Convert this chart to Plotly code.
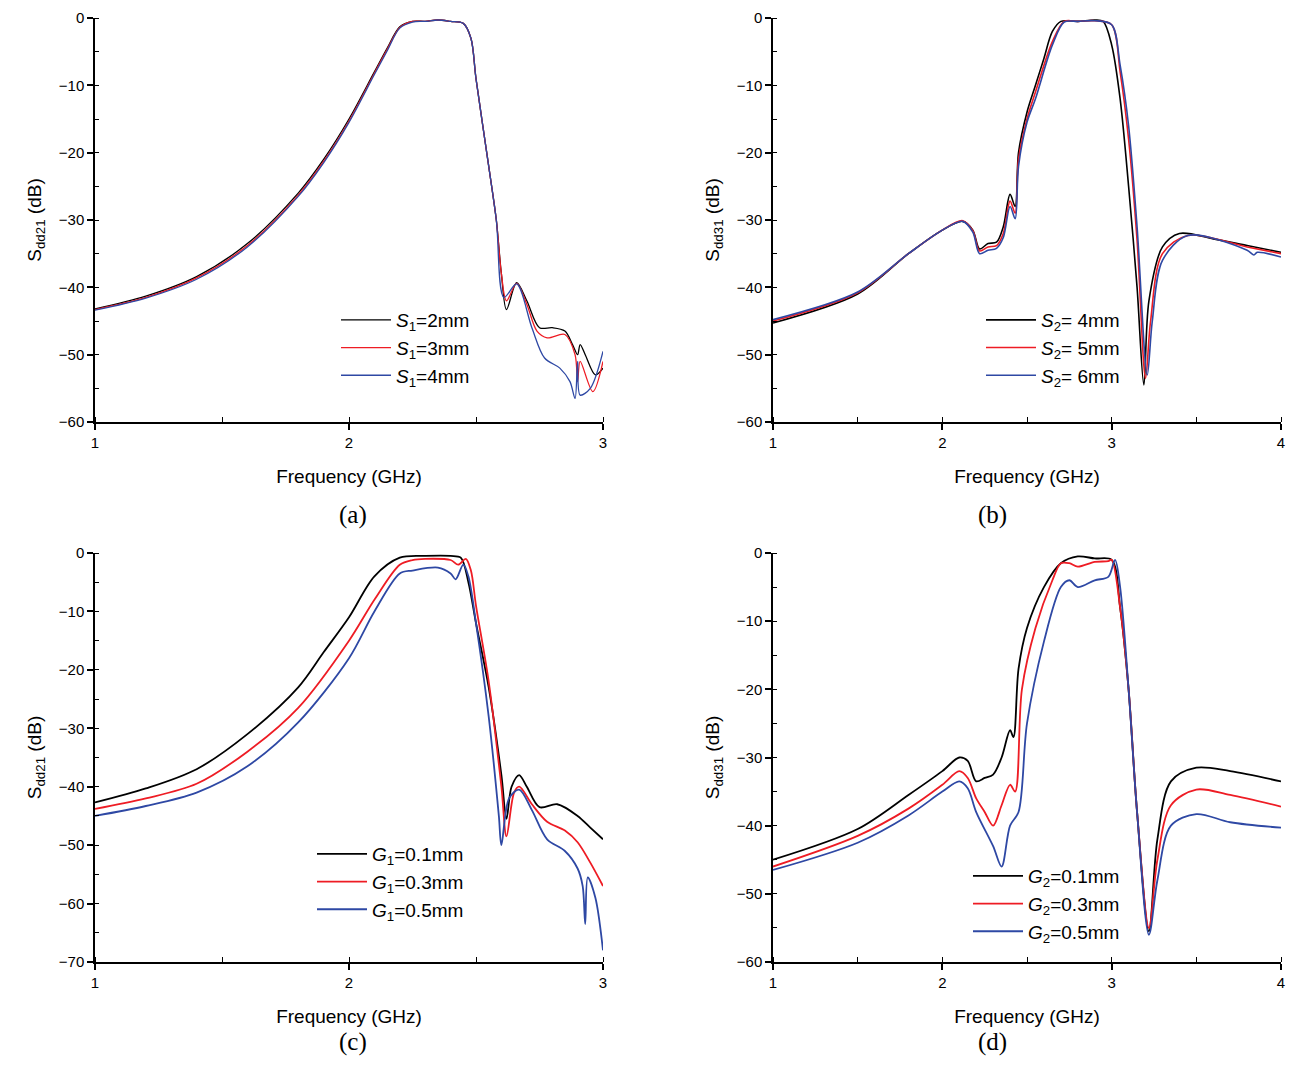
import plotly.graph_objects as go

# ---- panel (a): Sdd21 vs S1
xa_k = [1.0, 1.2, 1.4, 1.6, 1.8, 1.9, 2.0, 2.1, 2.15, 2.2, 2.25, 2.3, 2.35, 2.4, 2.45, 2.48, 2.5, 2.55, 2.58, 2.6, 2.62, 2.66, 2.7, 2.75, 2.8, 2.85, 2.88, 2.9, 2.91, 2.93, 2.97, 3.0]
ya_k = [-43.2, -41.3, -38.4, -33.5, -26, -21, -15, -8, -4.5, -1.3, -0.5, -0.5, -0.3, -0.5, -0.8, -3, -9, -22, -30, -38, -43.3, -39.3, -42, -46, -46, -46.5, -48.5, -50, -48.5, -50, -53, -52]
xa_r = [1.0, 1.2, 1.4, 1.6, 1.8, 1.9, 2.0, 2.1, 2.15, 2.2, 2.25, 2.3, 2.35, 2.4, 2.45, 2.48, 2.5, 2.55, 2.58, 2.6, 2.62, 2.66, 2.7, 2.74, 2.78, 2.85, 2.89, 2.9, 2.91, 2.96, 3.0]
ya_r = [-43.3, -41.5, -38.6, -33.8, -26.3, -21.3, -15.3, -8.2, -4.7, -1.4, -0.5, -0.5, -0.3, -0.5, -0.8, -3, -9, -22, -30, -38, -42, -39.4, -42.5, -46.5, -47.5, -47, -50, -54, -51, -55.5, -51]
xa_b = [1.0, 1.2, 1.4, 1.6, 1.8, 1.9, 2.0, 2.1, 2.15, 2.2, 2.25, 2.3, 2.35, 2.4, 2.45, 2.48, 2.5, 2.55, 2.58, 2.61, 2.66, 2.72, 2.77, 2.83, 2.87, 2.89, 2.9, 2.91, 2.95, 3.0]
ya_b = [-43.4, -41.6, -38.8, -34, -26.5, -21.5, -15.5, -8.4, -4.9, -1.5, -0.6, -0.5, -0.3, -0.5, -0.8, -3, -9, -22, -30, -41.5, -39.5, -46, -50.5, -52, -54, -56.5, -51, -56, -55, -49.5]

# ---- panel (b): Sdd31 vs S2
xb_k = [1.0, 1.5, 1.8, 2.0, 2.12, 2.18, 2.22, 2.27, 2.32, 2.36, 2.4, 2.43, 2.45, 2.5, 2.55, 2.6, 2.65, 2.7, 2.8, 2.9, 2.95, 3.0, 3.05, 3.1, 3.15, 3.19, 3.22, 3.3, 3.4, 3.6, 3.8, 4.0]
yb_k = [-45.3, -41, -35, -31.5, -30.2, -31.5, -34.3, -33.5, -33.3, -31, -26.2, -28, -20, -14, -10, -6, -2, -0.5, -0.5, -0.3, -0.5, -4, -12, -25, -40, -54.5, -42, -34, -32, -32.8, -33.8, -34.8]
xb_r = [1.0, 1.5, 1.8, 2.0, 2.12, 2.18, 2.22, 2.27, 2.32, 2.36, 2.4, 2.43, 2.45, 2.5, 2.55, 2.65, 2.72, 2.8, 2.9, 3.0, 3.05, 3.1, 3.15, 3.2, 3.23, 3.3, 3.45, 3.8, 4.0]
yb_r = [-45, -40.8, -35, -31.5, -30.1, -31.6, -34.6, -34, -33.8, -32, -27.2, -29, -21, -15, -11, -3.5, -0.5, -0.5, -0.4, -1, -8, -18, -33, -53.5, -45, -35, -32.3, -34, -35]
xb_b = [1.0, 1.5, 1.8, 2.0, 2.12, 2.18, 2.22, 2.27, 2.32, 2.36, 2.4, 2.43, 2.45, 2.5, 2.55, 2.65, 2.72, 2.8, 2.9, 3.0, 3.05, 3.1, 3.15, 3.21, 3.24, 3.3, 3.45, 3.8, 3.84, 3.86, 4.0]
yb_b = [-44.8, -40.7, -35, -31.5, -30.2, -31.8, -35, -34.5, -34.2, -32.6, -28, -29.8, -22, -15.5, -12, -4, -0.6, -0.5, -0.4, -1, -7, -16, -31, -53, -45, -36, -32.3, -34.5, -35.2, -34.8, -35.5]

# ---- panel (c): Sdd21 vs G1
xc_k = [1.0, 1.2, 1.4, 1.6, 1.8, 1.9, 2.0, 2.1, 2.2, 2.3, 2.4, 2.44, 2.47, 2.5, 2.55, 2.6, 2.62, 2.64, 2.67, 2.7, 2.75, 2.82, 2.9, 2.95, 3.0]
yc_k = [-42.7, -40.3, -37, -31, -23, -17, -11, -4, -0.8, -0.5, -0.5, -0.8, -5, -12, -23, -38, -45.5, -40, -38, -40, -43.5, -43, -45, -47, -49]
xc_r = [1.0, 1.2, 1.4, 1.6, 1.8, 2.0, 2.1, 2.2, 2.25, 2.3, 2.4, 2.43, 2.46, 2.48, 2.5, 2.55, 2.6, 2.62, 2.65, 2.67, 2.72, 2.78, 2.85, 2.9, 2.95, 3.0]
yc_r = [-43.8, -42, -39.5, -34, -26.5, -15, -8, -2, -1.2, -1, -1.2, -2, -1, -3, -9, -22, -40, -48.5, -41, -40, -43, -46, -47.5, -49.5, -53, -57]
xc_b = [1.0, 1.2, 1.4, 1.6, 1.8, 2.0, 2.1, 2.2, 2.25, 2.35, 2.4, 2.42, 2.45, 2.47, 2.5, 2.55, 2.59, 2.6, 2.63, 2.67, 2.72, 2.78, 2.85, 2.9, 2.92, 2.93, 2.94, 2.97, 3.0]
yc_b = [-45, -43.3, -41, -36.5, -29, -18, -10, -3.5, -3, -2.5, -3.5, -4.5, -2, -4, -12, -28, -45, -50, -42, -40.5, -44, -49, -51, -54, -57, -63.5, -55.5, -59, -68]

# ---- panel (d): Sdd31 vs G2
xd_k = [1.0, 1.5, 1.8, 2.0, 2.1, 2.15, 2.2, 2.25, 2.3, 2.35, 2.4, 2.42, 2.45, 2.5, 2.6, 2.7, 2.8, 2.9, 3.0, 3.05, 3.1, 3.15, 3.22, 3.27, 3.35, 3.5, 3.7, 4.0]
yd_k = [-45, -40.5, -35.5, -32, -30, -30.5, -33.5, -33, -32.5, -30, -26, -27, -17, -11, -5, -1.5, -0.5, -0.8, -1, -8, -20, -38, -55.5, -42, -33.5, -31.5, -32, -33.5]
xd_r = [1.0, 1.5, 1.8, 2.0, 2.1, 2.15, 2.2, 2.25, 2.3, 2.35, 2.4, 2.43, 2.47, 2.55, 2.65, 2.7, 2.75, 2.8, 2.9, 2.98, 3.0, 3.05, 3.1, 3.15, 3.22, 3.27, 3.35, 3.5, 3.7, 4.0]
yd_r = [-46, -41.5, -37.5, -34, -32, -33, -36, -38, -40, -37, -34, -35, -20, -11, -4, -1.5, -1.5, -2, -1.3, -1.2, -1, -8, -20, -38, -55, -45, -37, -34.7, -35.5, -37.2]
xd_b = [1.0, 1.5, 1.8, 2.0, 2.1, 2.15, 2.2, 2.3, 2.35, 2.4, 2.45, 2.5, 2.6, 2.7, 2.75, 2.8, 2.9, 2.98, 3.02, 3.05, 3.1, 3.15, 3.22, 3.27, 3.35, 3.5, 3.7, 4.0]
yd_b = [-46.5, -42.5, -38.5, -35, -33.5, -34.5, -38, -43, -46, -40, -38, -25, -13, -5, -4, -5, -4, -3.5, -1, -5, -20, -38, -56, -48, -40, -38.3, -39.5, -40.3]

names_a = ["<i>S</i><sub>1</sub>=2mm", "<i>S</i><sub>1</sub>=3mm", "<i>S</i><sub>1</sub>=4mm"]
names_b = ["<i>S</i><sub>2</sub>= 4mm", "<i>S</i><sub>2</sub>= 5mm", "<i>S</i><sub>2</sub>= 6mm"]
names_c = ["<i>G</i><sub>1</sub>=0.1mm", "<i>G</i><sub>1</sub>=0.3mm", "<i>G</i><sub>1</sub>=0.5mm"]
names_d = ["<i>G</i><sub>2</sub>=0.1mm", "<i>G</i><sub>2</sub>=0.3mm", "<i>G</i><sub>2</sub>=0.5mm"]
colors = ["#000000", "#ee1c24", "#2e48a4"]

panels = [
    ("x", "y", "legend", [(xa_k, ya_k), (xa_r, ya_r), (xa_b, ya_b)], names_a, 1.3),
    ("x2", "y2", "legend2", [(xb_k, yb_k), (xb_r, yb_r), (xb_b, yb_b)], names_b, 1.6),
    ("x3", "y3", "legend3", [(xc_k, yc_k), (xc_r, yc_r), (xc_b, yc_b)], names_c, 1.8),
    ("x4", "y4", "legend4", [(xd_k, yd_k), (xd_r, yd_r), (xd_b, yd_b)], names_d, 1.8),
]

fig = go.Figure()
for xr, yr, lg, series, names, w in panels:
    for (xs, ys), nm, c in zip(series, names, colors):
        fig.add_trace(go.Scatter(x=xs, y=ys, name=nm, mode="lines", xaxis=xr, yaxis=yr, legend=lg,
                                 line=dict(color=c, width=w, shape="spline", smoothing=0.9)))

# page body adds an 8 px margin, so work in figure pixels = screen pixels - 8
OFF = 8
W, H = 1304 - 2 * OFF, 1074 - 2 * OFF

def px(x):
    return (x - OFF) / W

def py(y):
    return 1 - (y - OFF) / H

xdom = [(px(95), px(603)), (px(773), px(1281))]
ydom = [(py(422), py(18)), (py(962), py(553))]

FONT = "Liberation Sans"
tickfont = dict(family=FONT, size=15, color="black")
titlefont = dict(family=FONT, size=19, color="black")

def xax(dom, rng, anchor):
    return dict(domain=dom, range=rng, anchor=anchor, dtick=1, showgrid=False, zeroline=False,
                automargin=False,
                showline=True, linecolor="black", linewidth=1.5, ticks="outside", ticklen=6,
                tickcolor="black", tickwidth=1.5, tickfont=tickfont,
                minor=dict(ticks="inside", dtick=0.5, ticklen=5, tickcolor="black", tickwidth=1.2),
                title=dict(text="Frequency (GHz)", font=titlefont, standoff=20))

def yax(dom, rng, anchor, title):
    return dict(domain=dom, range=rng, anchor=anchor, dtick=10, showgrid=False, zeroline=False,
                automargin=False,
                showline=True, linecolor="black", linewidth=1.5, ticks="outside", ticklen=6,
                tickcolor="black", tickwidth=1.5, tickfont=tickfont,
                minor=dict(ticks="inside", dtick=5, ticklen=4, tickcolor="black", tickwidth=1.2),
                title=dict(text=title, font=titlefont, standoff=12))

def leg(x, y):
    return dict(x=px(x), y=py(y), xanchor="left", yanchor="top", bgcolor="rgba(0,0,0,0)",
                font=dict(family=FONT, size=19, color="black"), itemwidth=50, tracegroupgap=0)

fig.update_layout(
    width=W, height=H, margin=dict(l=0, r=0, t=0, b=0, autoexpand=False),
    plot_bgcolor="white", paper_bgcolor="white",
    xaxis=xax(xdom[0], [1, 3], "y"), yaxis=yax(ydom[0], [-60, 0], "x", "S<sub>dd21</sub> (dB)"),
    xaxis2=xax(xdom[1], [1, 4], "y2"), yaxis2=yax(ydom[0], [-60, 0], "x2", "S<sub>dd31</sub> (dB)"),
    xaxis3=xax(xdom[0], [1, 3], "y3"), yaxis3=yax(ydom[1], [-70, 0], "x3", "S<sub>dd21</sub> (dB)"),
    xaxis4=xax(xdom[1], [1, 4], "y4"), yaxis4=yax(ydom[1], [-60, 0], "x4", "S<sub>dd31</sub> (dB)"),
    legend=leg(336, 301), legend2=leg(981, 301), legend3=leg(312, 835), legend4=leg(968, 857),
    showlegend=True,
)

for txt, x, y in [("(a)", 337, 515), ("(b)", 1009, 515), ("(c)", 337, 1058), ("(d)", 1009, 1058)]:
    fig.add_annotation(text=txt, x=px(x), y=py(y), xref="paper", yref="paper", showarrow=False,
                       font=dict(family="Liberation Serif", size=25, color="black"))

fig.write_html("out.html")
